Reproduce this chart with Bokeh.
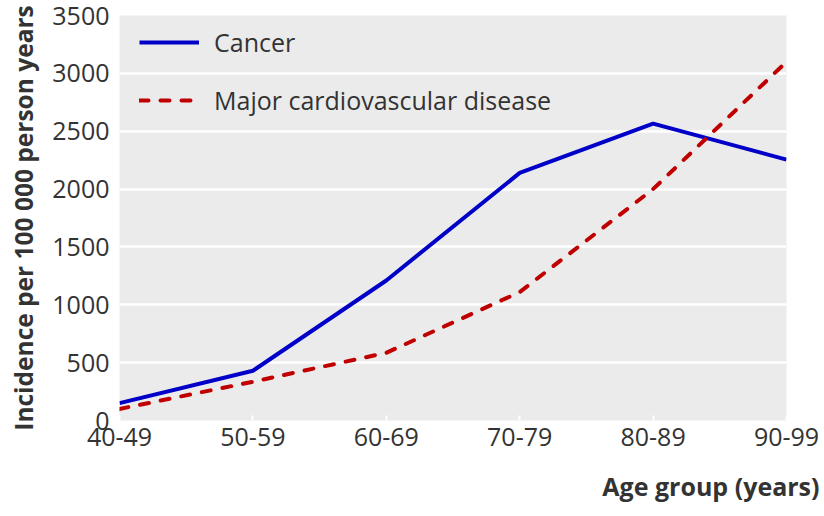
from bokeh.plotting import figure
from bokeh.models import Range1d, FixedTicker, Title, Legend, LegendItem
from bokeh.embed import file_html
from bokeh.resources import INLINE

age_groups = ["40-49", "50-59", "60-69", "70-79", "80-89", "90-99"]
cancer = [150, 430, 1210, 2140, 2565, 2255]
cvd = [100, 335, 585, 1110, 2000, 3100]
y_ticks = [0, 500, 1000, 1500, 2000, 2500, 3000, 3500]

xs = list(range(len(age_groups)))

FONT = "Open Sans"

p = figure(width=822, height=514, output_backend="svg", toolbar_location=None,
           x_range=Range1d(0, len(age_groups) - 1), y_range=Range1d(0, 3500),
           min_border_left=119, min_border_right=36, min_border_top=15, min_border_bottom=94)
p.outline_line_color = None
p.background_fill_color = "#ebebeb"
p.border_fill_color = "white"

r1 = p.line(xs, cancer, line_color="#0000c8", line_width=4, line_join="round")
r2 = p.line(xs, cvd, line_color="#c00000", line_width=4, line_dash="9 12",
            line_cap="round", line_join="round")

# grid
p.xgrid.grid_line_color = None
p.ygrid.grid_line_color = "white"
p.ygrid.grid_line_width = 2.5
p.ygrid.ticker = FixedTicker(ticks=y_ticks)

# x axis
p.xaxis.ticker = FixedTicker(ticks=xs)
p.xaxis.major_label_overrides = {i: lab for i, lab in enumerate(age_groups)}
p.xaxis.axis_line_color = None
p.xaxis.major_tick_line_color = "white"
p.xaxis.major_tick_line_width = 2
p.xaxis.major_tick_in = 5
p.xaxis.major_tick_out = 0
p.xaxis.minor_tick_line_color = None
p.xaxis.major_label_text_font = FONT
p.xaxis.major_label_text_font_size = "25px"
p.xaxis.major_label_text_color = "#333333"
p.xaxis.major_label_standoff = 7
# small blank spacer below the tick labels to push the axis title down
p.xaxis.axis_label = " "
p.xaxis.axis_label_text_font_size = "10px"
p.xaxis.axis_label_standoff = 0

# y axis
p.yaxis.ticker = FixedTicker(ticks=y_ticks)
p.yaxis.axis_line_color = None
p.yaxis.major_tick_line_color = None
p.yaxis.major_tick_in = 0
p.yaxis.major_tick_out = 0
p.yaxis.minor_tick_line_color = None
p.yaxis.major_label_text_font = FONT
p.yaxis.major_label_text_font_size = "25px"
p.yaxis.major_label_text_color = "#333333"
p.yaxis.major_label_standoff = 10
p.yaxis.axis_label = "Incidence per 100 000 person years"
p.yaxis.axis_label_text_font = FONT
p.yaxis.axis_label_text_font_style = "bold"
p.yaxis.axis_label_text_font_size = "24.5px"
p.yaxis.axis_label_text_color = "#333333"
p.yaxis.axis_label_standoff = 9

legend = Legend(items=[LegendItem(label="Cancer", renderers=[r1]),
                       LegendItem(label="Major cardiovascular disease", renderers=[r2])],
                location=(20, 303))
legend.background_fill_alpha = 0
legend.border_line_color = None
legend.margin = 0
legend.padding = 0
legend.glyph_width = 60
legend.label_standoff = 15
legend.spacing = 24
legend.label_text_font = FONT
legend.label_text_font_size = "25px"
legend.label_text_color = "#333333"
p.add_layout(legend)

xtitle = Title(text="Age group (years)", align="right", offset=-33, standoff=8,
               text_font=FONT, text_font_style="bold", text_font_size="25px",
               text_color="#333333")
p.add_layout(xtitle, "below")

open("out.html", "w").write(file_html(p, INLINE))
